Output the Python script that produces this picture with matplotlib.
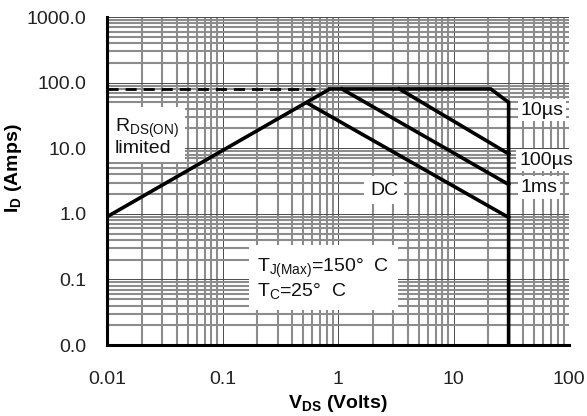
import matplotlib
matplotlib.use("Agg")
import matplotlib.pyplot as plt
from matplotlib.ticker import LogLocator, FixedLocator, NullFormatter

plt.rcParams['font.family'] = ['Liberation Sans', 'DejaVu Sans']
plt.rcParams['mathtext.fontset'] = 'custom'
plt.rcParams['mathtext.rm'] = 'Liberation Sans'
plt.rcParams['mathtext.bf'] = 'Liberation Sans:bold'

# Safe operating area boundaries (V_DS in volts, I_D in amps)
rds_limit_v = [0.01, 0.63]
rds_limit_i = [80, 80]
rds_line_v = [0.01, 0.85]
rds_line_i = [0.9, 80]
pulse_10us_v = [0.85, 21, 30, 30]
pulse_10us_i = [80, 80, 50, 0.01]
pulse_100us_v = [3.4, 30]
pulse_100us_i = [80, 8.2]
pulse_1ms_v = [1.08, 30]
pulse_1ms_i = [80, 2.8]
dc_v = [0.55, 30]
dc_i = [48, 0.88]

x_ticks = [0.01, 0.1, 1, 10, 100]
x_tick_labels = ["0.01", "0.1", "1", "10", "100"]
y_ticks = [0.01, 0.1, 1, 10, 100, 1000]
y_tick_labels = ["0.0", "0.1", "1.0", "10.0", "100.0", "1000.0"]

W, H = 587, 416
fig = plt.figure(figsize=(W / 100, H / 100), dpi=100)
ax = fig.add_axes([107 / W, 71 / H, 462 / W, 328 / H])
ax.set_xscale('log')
ax.set_yscale('log')
ax.set_xlim(0.01, 100)
ax.set_ylim(0.01, 1000)

ax.xaxis.set_major_locator(FixedLocator(x_ticks))
ax.yaxis.set_major_locator(FixedLocator(y_ticks))
ax.set_xticklabels(x_tick_labels)
ax.set_yticklabels(y_tick_labels)
ax.xaxis.set_minor_locator(LogLocator(base=10, subs=range(2, 10), numticks=20))
ax.yaxis.set_minor_locator(LogLocator(base=10, subs=range(2, 10), numticks=20))
ax.xaxis.set_minor_formatter(NullFormatter())
ax.yaxis.set_minor_formatter(NullFormatter())

ax.grid(which='minor', color='#8c8c8c', linewidth=1.5)
ax.grid(which='major', color='#4a4a4a', linewidth=0.7)
ax.set_axisbelow(True)

tick_color = '#222222'
ax.tick_params(which='both', length=0)
ax.tick_params(axis='x', pad=19, labelsize=14, labelcolor=tick_color)
ax.tick_params(axis='y', pad=15, labelsize=14, labelcolor=tick_color)

for side in ('top', 'right'):
    ax.spines[side].set_visible(False)
for side in ('left', 'bottom'):
    ax.spines[side].set_linewidth(2.2)
    ax.spines[side].set_color('black')
    ax.spines[side].set_zorder(5)

lw = 2.6
ax.plot(rds_limit_v, rds_limit_i, color='black', lw=2, ls=(0, (4, 2.5)), zorder=3)
ax.plot(rds_line_v, rds_line_i, color='black', lw=lw, zorder=3, solid_capstyle='butt')
ax.plot(pulse_10us_v, pulse_10us_i, color='black', lw=lw, zorder=3, solid_joinstyle='miter')
ax.plot(pulse_100us_v, pulse_100us_i, color='black', lw=lw, zorder=3)
ax.plot(pulse_1ms_v, pulse_1ms_i, color='black', lw=lw, zorder=3)
ax.plot(dc_v, dc_i, color='black', lw=lw, zorder=3)

box = dict(facecolor='white', edgecolor='none', pad=2)
txt = dict(fontsize=14, color='#111111', zorder=4)
ax.text(38, 38, "10µs", va='center', ha='left', bbox=box, **txt)
ax.text(37, 6.6, "100µs", va='center', ha='left', bbox=box, **txt)
ax.text(38, 2.5, "1ms", va='center', ha='left', bbox=box, **txt)
ax.text(2.5, 2.3, "DC", va='center', ha='center',
        bbox=dict(facecolor='white', edgecolor='none', pad=4), **txt)
ax.text(0.0117, 15, "R$_\\mathregular{DS(ON)}$\nlimited", va='center', ha='left',
        linespacing=0.95, bbox=dict(facecolor='white', edgecolor='none', pad=4), **txt)
ax.text(0.2, 0.1, "T$_\\mathregular{J(Max)}$=150°  C\nT$_\\mathregular{C}$=25°  C",
        va='center', ha='left', linespacing=1.1,
        bbox=dict(facecolor='white', edgecolor='none', pad=6), **txt)

fig.text(338 / W, 1 - 403 / H, "$\\mathbf{V_{DS}}$ (Volts)", fontsize=14,
         fontweight='bold', ha='center', va='center')
fig.text(14 / W, 1 - 168 / H, "$\\mathbf{I_{D}}$ (Amps)", fontsize=14,
         fontweight='bold', ha='center', va='center', rotation=90)

fig.savefig("out.png", dpi=100)
